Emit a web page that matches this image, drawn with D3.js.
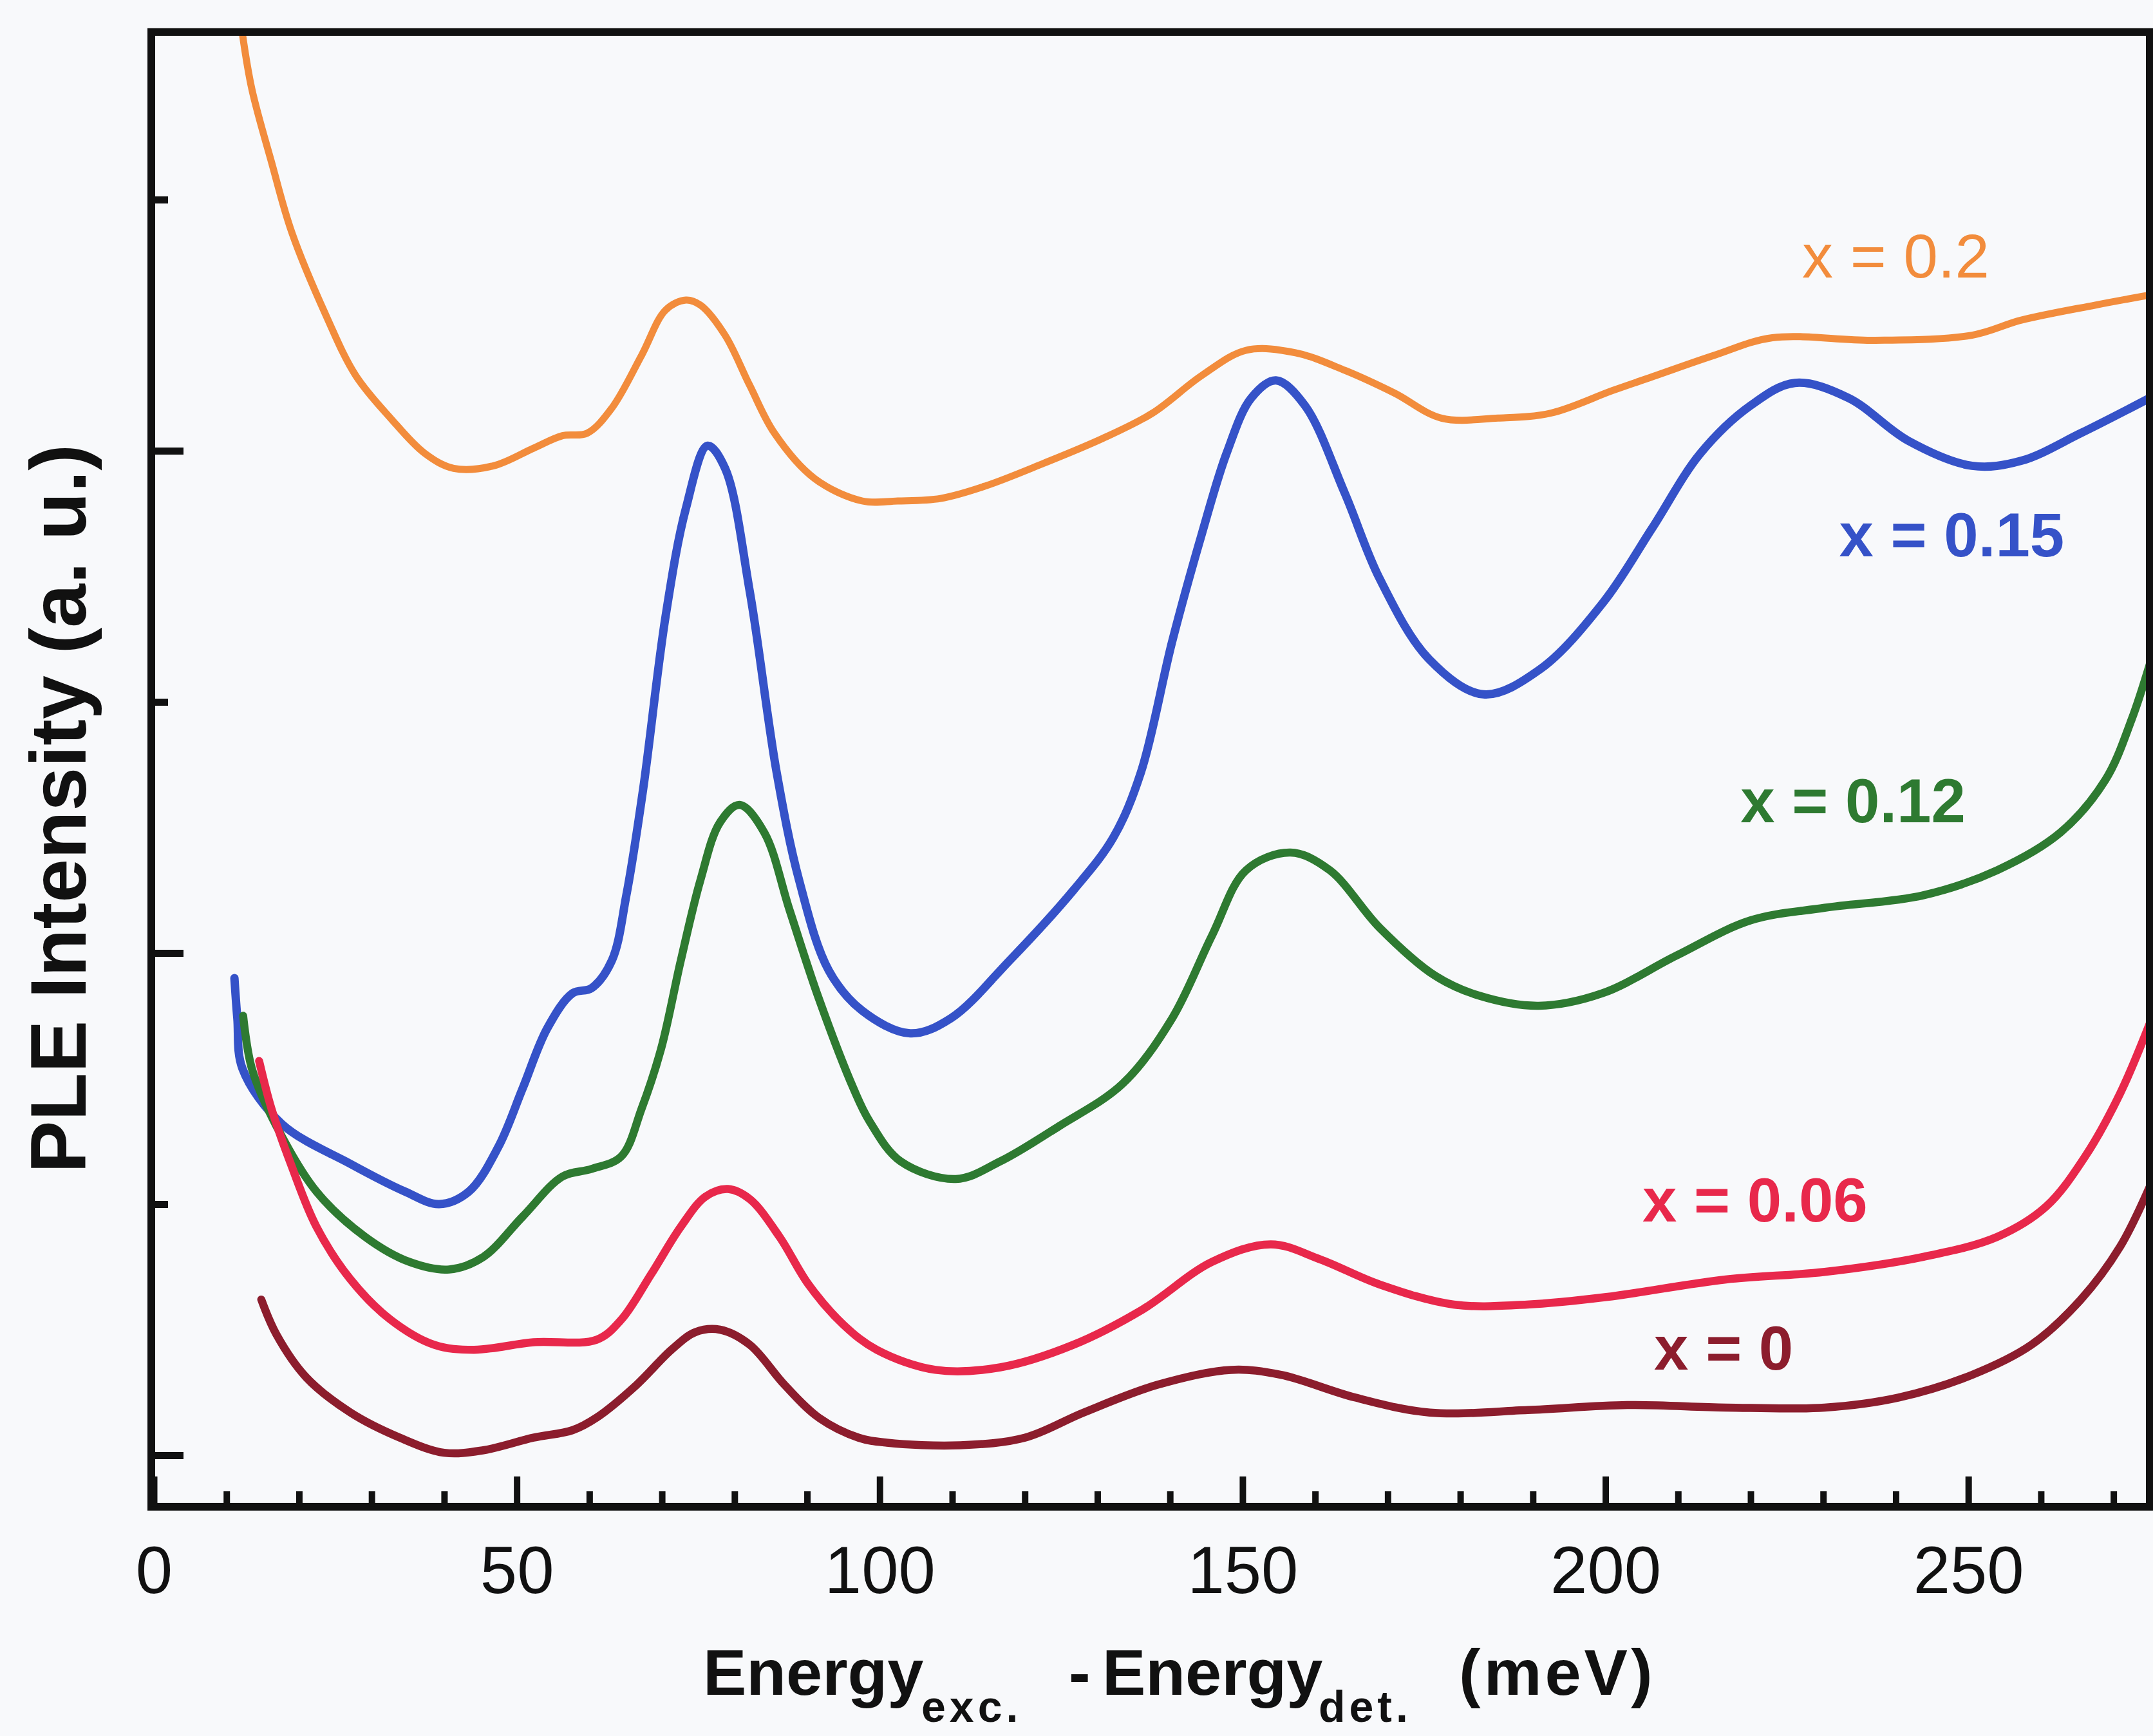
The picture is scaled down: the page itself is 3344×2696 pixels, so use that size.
<!DOCTYPE html>
<html>
<head>
<meta charset="utf-8">
<script src="https://cdn.jsdelivr.net/npm/d3@7"></script>
<style>
  html, body { margin: 0; padding: 0; background: #f8f9fb; }
  svg { display: block; }
</style>
</head>
<body>
<script>
// ---------------- DATA ----------------
// x: Energy_exc - Energy_det (meV); y: PLE intensity (a.u., offset curves)
const xTickValues = [0, 50, 100, 150, 200, 250];
const xMinorTickValues = [10, 20, 30, 40, 60, 70, 80, 90, 110, 120, 130, 140, 160, 170, 180, 190, 210, 220, 230, 240, 260, 270];
const yMajorTickValues = [0, 2, 4];
const yMinorTickValues = [1, 3, 5];

const seriesNames = ["x = 0.2", "x = 0.15", "x = 0.12", "x = 0.06", "x = 0"];

const curve_x020 = [[12.2,5.66],[13.5,5.44],[16.2,5.15],[19.0,4.87],[23.7,4.54],[27.8,4.30],[32.6,4.13],[37.3,3.99],[41.3,3.93],[46.8,3.94],[52.3,4.01],[56.3,4.06],[59.7,4.07],[63.1,4.17],[67.2,4.38],[70.5,4.56],[73.3,4.60],[75.3,4.58],[78.7,4.46],[82.1,4.26],[85.5,4.07],[91.0,3.89],[97.6,3.80],[102.5,3.80],[108.4,3.81],[114.6,3.86],[122.6,3.95],[130.8,4.05],[137.6,4.15],[144.4,4.30],[150.5,4.40],[157.3,4.39],[164.1,4.32],[170.9,4.23],[177.4,4.13],[185.2,4.13],[192.5,4.15],[201.0,4.24],[207.0,4.30],[215.0,4.38],[223.0,4.45],[236.9,4.44],[250.5,4.46],[257.3,4.52],[267.5,4.58],[275.0,4.62]];

const curve_x015 = [[11.1,1.90],[11.5,1.74],[12.2,1.54],[17.6,1.32],[27.1,1.16],[34.6,1.05],[39.3,1.00],[43.4,1.05],[47.5,1.23],[50.8,1.46],[54.2,1.70],[57.7,1.84],[60.3,1.86],[63.1,1.97],[65.1,2.23],[67.4,2.65],[70.5,3.34],[73.3,3.77],[76.3,4.02],[78.7,3.93],[82.1,3.44],[85.8,2.72],[88.9,2.29],[93.0,1.93],[97.6,1.77],[104.2,1.68],[109.8,1.74],[117.9,1.97],[126.7,2.25],[132.2,2.46],[136.0,2.72],[140.3,3.24],[144.4,3.67],[147.8,3.99],[151.2,4.21],[154.6,4.28],[158.6,4.18],[164.1,3.83],[168.9,3.49],[175.7,3.17],[183.2,3.03],[191.0,3.13],[199.8,3.40],[206.4,3.69],[213.1,3.99],[220.0,4.18],[226.1,4.27],[233.5,4.21],[241.7,4.04],[250.5,3.94],[257.3,3.96],[265.5,4.07],[275.0,4.21]];

const curve_x012 = [[12.3,1.75],[13.5,1.54],[16.9,1.31],[22.4,1.05],[29.1,0.87],[35.2,0.77],[40.7,0.74],[45.4,0.79],[50.8,0.95],[56.3,1.11],[60.3,1.14],[64.4,1.19],[67.2,1.38],[69.9,1.62],[72.6,1.97],[75.3,2.29],[78.0,2.52],[80.7,2.59],[84.1,2.48],[87.6,2.17],[91.6,1.82],[96.4,1.46],[98.6,1.33],[102.9,1.17],[110.5,1.10],[116.6,1.17],[124.7,1.31],[133.5,1.48],[140.3,1.74],[145.8,2.07],[150.5,2.33],[156.6,2.40],[162.0,2.33],[168.9,2.10],[176.5,1.91],[182.6,1.83],[190.8,1.79],[199.6,1.84],[209.8,1.99],[220.0,2.13],[230.2,2.18],[243.8,2.23],[254.0,2.33],[262.7,2.48],[268.9,2.69],[272.5,2.93],[275.0,3.15]];

const curve_x006 = [[14.5,1.57],[16.2,1.38],[19.0,1.15],[22.4,0.91],[27.1,0.70],[32.6,0.54],[38.6,0.44],[44.1,0.42],[52.3,0.45],[61.0,0.46],[64.4,0.54],[68.5,0.72],[72.6,0.91],[76.0,1.03],[79.1,1.06],[82.1,1.02],[86.2,0.87],[90.2,0.68],[95.0,0.52],[99.6,0.42],[107.7,0.34],[116.6,0.35],[126.7,0.44],[136.2,0.58],[145.8,0.77],[153.9,0.84],[160.7,0.78],[168.9,0.68],[179.1,0.60],[189.2,0.60],[200.1,0.63],[216.6,0.70],[230.2,0.73],[243.8,0.79],[254.0,0.87],[260.7,0.99],[266.1,1.19],[270.9,1.44],[275.0,1.72]];

const curve_x000 = [[14.8,0.62],[16.9,0.48],[21.0,0.31],[27.1,0.17],[33.9,0.07],[40.0,0.01],[45.4,0.02],[52.3,0.07],[57.7,0.10],[61.0,0.15],[66.5,0.28],[71.3,0.42],[74.6,0.49],[78.0,0.50],[82.1,0.44],[86.9,0.28],[91.6,0.15],[97.1,0.07],[101.0,0.05],[111.1,0.04],[120.0,0.07],[128.1,0.17],[138.2,0.28],[148.4,0.34],[155.3,0.32],[165.5,0.23],[175.8,0.17],[189.3,0.18],[203.0,0.20],[216.6,0.19],[230.2,0.19],[240.4,0.23],[250.5,0.32],[258.7,0.44],[265.5,0.62],[270.9,0.83],[275.0,1.07]];

// label anchor points in data units (meV, intensity)
const labelAnchors = [[227.1,4.69],[232.2,3.58],[218.6,2.52],[205.1,0.93],[206.7,0.34]];

// ---------------- STYLE / LAYOUT ----------------
const W = 3344, H = 2696;
const colors = ["#f28c3c", "#3552c8", "#2e7a31", "#e8284b", "#8c1d2d"];
const widths = [11, 13, 12.5, 12.5, 12.5];
const labelWeights = ["normal", "bold", "bold", "bold", "bold"];
const allCurves = [curve_x020, curve_x015, curve_x012, curve_x006, curve_x000];
const FONT = "'Liberation Sans', Arial, Helvetica, sans-serif";

const svg = d3.select("body").append("svg")
  .attr("width", W).attr("height", H)
  .attr("font-family", FONT);

svg.append("rect").attr("width", W).attr("height", H).attr("fill", "#f8f9fb");

const x = d3.scaleLinear().domain([0, 275]).range([239, 3339]);
const y = d3.scaleLinear().domain([0, 5]).range([2260, 310]);
const yTop = y(5.667), yBot = y(-0.205);

const line = d3.line()
  .x(d => x(d[0])).y(d => y(d[1]))
  .curve(d3.curveCatmullRom.alpha(0.5));

svg.append("clipPath").attr("id", "plotclip")
  .append("rect").attr("x", x(0) - 4).attr("y", yTop).attr("width", x(275) - x(0) + 4).attr("height", yBot - yTop);

const gCurves = svg.append("g").attr("clip-path", "url(#plotclip)");
allCurves.forEach((c, i) => {
  gCurves.append("path")
    .attr("d", line(c))
    .attr("fill", "none")
    .attr("stroke", colors[i])
    .attr("stroke-width", widths[i])
    .attr("stroke-linejoin", "round")
    .attr("stroke-linecap", "round");
});

// frame
svg.append("rect")
  .attr("x", 235).attr("y", yTop)
  .attr("width", x(275) - 235).attr("height", yBot - yTop)
  .attr("fill", "none").attr("stroke", "#111").attr("stroke-width", 12);

// x axis: major
const gx = svg.append("g").attr("transform", `translate(0,${yBot})`)
  .call(d3.axisBottom(x).tickValues(xTickValues).tickSizeInner(-47).tickSizeOuter(0).tickPadding(61));
gx.select(".domain").remove();
gx.selectAll(".tick line").attr("stroke", "#111").attr("stroke-width", 10);
gx.selectAll(".tick text").attr("font-size", 103).attr("fill", "#111").attr("font-family", FONT);
// x axis: minor
const gxm = svg.append("g").attr("transform", `translate(0,${yBot})`)
  .call(d3.axisBottom(x).tickValues(xMinorTickValues).tickSizeInner(-24).tickSizeOuter(0).tickFormat(""));
gxm.select(".domain").remove();
gxm.selectAll(".tick line").attr("stroke", "#111").attr("stroke-width", 10);

// y axis
const gy = svg.append("g").attr("transform", `translate(235,0)`)
  .call(d3.axisLeft(y).tickValues(yMajorTickValues).tickSizeInner(-50).tickSizeOuter(0).tickFormat(""));
gy.select(".domain").remove();
gy.selectAll(".tick line").attr("stroke", "#111").attr("stroke-width", 11);
const gym = svg.append("g").attr("transform", `translate(235,0)`)
  .call(d3.axisLeft(y).tickValues(yMinorTickValues).tickSizeInner(-26).tickSizeOuter(0).tickFormat(""));
gym.select(".domain").remove();
gym.selectAll(".tick line").attr("stroke", "#111").attr("stroke-width", 11);

// series labels
seriesNames.forEach((n, i) => {
  svg.append("text")
    .attr("x", x(labelAnchors[i][0])).attr("y", y(labelAnchors[i][1]))
    .attr("font-size", 96).attr("font-weight", labelWeights[i])
    .attr("fill", colors[i])
    .text(n);
});

// x axis title
const xt = svg.append("text")
  .attr("y", 2632)
  .attr("font-size", 101).attr("font-weight", "bold").attr("fill", "#111");
xt.append("tspan").attr("x", 1092).text("Energy");
xt.append("tspan").attr("x", 1431).attr("dy", 42).attr("font-size", 68).attr("letter-spacing", 6).text("exc.");
xt.append("tspan").attr("x", 1660).attr("dy", -42).text("-");
xt.append("tspan").attr("x", 1712).text("Energy");
xt.append("tspan").attr("x", 2048).attr("dy", 42).attr("font-size", 68).attr("letter-spacing", 6).text("det.");
xt.append("tspan").attr("x", 2266).attr("dy", -42).attr("letter-spacing", 5).text("(meV)");

// y axis title
svg.append("text")
  .attr("transform", "translate(133,1256) rotate(-90)")
  .attr("text-anchor", "middle")
  .attr("font-size", 122).attr("font-weight", "bold").attr("fill", "#111")
  .text("PLE Intensity (a. u.)");
</script>
</body>
</html>
